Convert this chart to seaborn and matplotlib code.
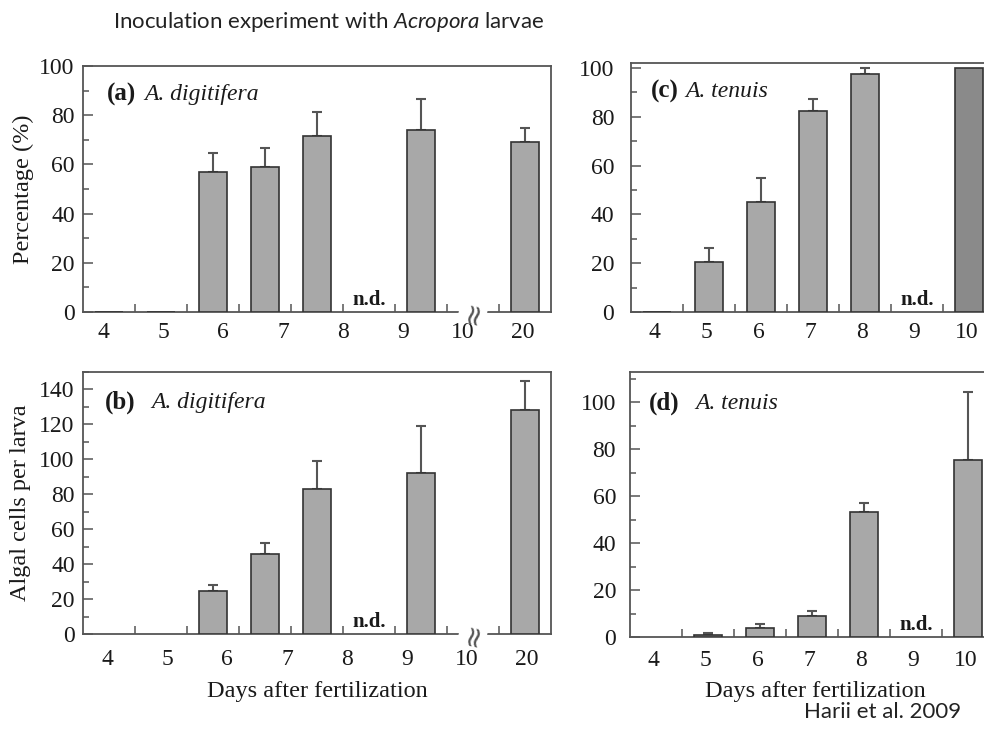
import numpy as np
import pandas as pd
import matplotlib
matplotlib.use("Agg")
import matplotlib.pyplot as plt
import seaborn as sns
from matplotlib.ticker import MultipleLocator

# ---------------- data ----------------
days_ab = ["4", "5", "6", "7", "8", "9", "10", "20"]
pct_a = [0, 0, 57, 59, 71.5, np.nan, 74, np.nan, 69]
pct_a_err = [0, 0, 7.5, 7.7, 10, 0, 12.5, 0, 5.7]
cells_b = [np.nan, np.nan, 24.4, 45.7, 83.2, np.nan, 92.4, np.nan, 128.4]
cells_b_err = [0, 0, 3.8, 6.3, 15.7, 0, 26.8, 0, 16.3]

days_cd = ["4", "5", "6", "7", "8", "9", "10"]
pct_c = [0, 20.3, 45.1, 82.5, 97.5, np.nan, 100]
pct_c_err = [0, 5.8, 9.8, 4.8, 2.5, 0, 0]
cells_d = [np.nan, 0.7, 4.0, 9.0, 53.1, np.nan, 75.4]
cells_d_err = [0, 1.0, 1.7, 2.0, 3.9, 0, 29.1]

nd_slot_ab = 5
break_slot_ab = 7
nd_slot_cd = 5
dark_slot_c = 6

LIGHT = "#a8a8a8"
DARK = "#8a8a8a"
EDGE = "#333333"
AXC = "#555555"
TXT = "#1a1a1a"

sns.set_theme(style="white")
plt.rcParams["font.family"] = ["Liberation Serif", "DejaVu Serif"]
plt.rcParams["mathtext.fontset"] = "custom"
plt.rcParams["mathtext.rm"] = "Lato"
plt.rcParams["mathtext.it"] = "Lato:italic"

fig = plt.figure(figsize=(9.84, 7.30), dpi=100)
W, H = 984.0, 730.0


def make_ax(left, top, right, bottom):
    return fig.add_axes([left / W, (H - bottom) / H, (right - left) / W, (bottom - top) / H])


def panel(ax, vals, errs, ylim, ylabels_pad, xlabels, label_pos, xlim_right,
          xpad=7, dark_slot=None, nd_slot=None, break_slot=None):
    n = len(vals)
    names = [f"s{i}" for i in range(n)]
    pal = {nm: (DARK if i == dark_slot else LIGHT) for i, nm in enumerate(names)}
    df = pd.DataFrame({"slot": names, "value": vals}).dropna()
    sns.barplot(data=df, x="slot", y="value", hue="slot", order=names,
                hue_order=names, palette=pal, width=0.55, saturation=1,
                edgecolor=EDGE, linewidth=1.2, legend=False, ax=ax, zorder=3)
    e = np.array(errs, dtype=float)
    v = np.array(vals, dtype=float)
    idx = np.where(e > 0)[0]
    ax.errorbar(idx, v[idx], yerr=[np.zeros(len(idx)), e[idx]], fmt="none",
                ecolor=AXC, elinewidth=1.5, capsize=3.3, capthick=1.5, zorder=2)
    ax.set_xlim(-0.5, xlim_right)
    ax.set_ylim(*ylim)
    ax.set_xticks(label_pos)
    ax.set_xticklabels(xlabels, fontsize=17, color=TXT)
    ax.set_xticks(np.arange(0.5, n - 0.5, 1.0), minor=True)
    ax.tick_params(axis="x", which="major", length=0, pad=xpad)
    ax.tick_params(axis="x", which="minor", direction="in", length=6,
                   width=1.1, color=AXC, bottom=True)
    ax.yaxis.set_major_locator(MultipleLocator(20))
    ax.yaxis.set_minor_locator(MultipleLocator(10))
    ax.tick_params(axis="y", which="major", direction="in", length=7, width=1.1,
                   color=AXC, left=True, labelsize=17, labelcolor=TXT,
                   pad=ylabels_pad)
    ax.tick_params(axis="y", which="minor", direction="in", length=4, width=1.1,
                   color=AXC, left=True)
    for s in ax.spines.values():
        s.set_color(AXC)
        s.set_linewidth(1.3)
    ax.set_xlabel("")
    ax.set_ylabel("")
    if nd_slot is not None:
        ax.text(nd_slot, ylim[1] * 0.008, "n.d.", ha="center", va="bottom",
                fontsize=15, fontweight="bold", color=TXT)
    if break_slot is not None:
        ax.text(break_slot, 0, "\u2248", ha="center", va="center", rotation=78,
                fontsize=21, color=AXC, family="DejaVu Sans",
                bbox=dict(facecolor="white", edgecolor="none", pad=0.1))


slot_px = 52.0

# (a)
ax_a = make_ax(83, 66, 551, 312)
pos_ab = np.arange(len(days_ab)) * (60.0 / slot_px) - 0.115
panel(ax_a, pct_a, pct_a_err, (0, 100), 6, days_ab, pos_ab, 8.5,
      nd_slot=nd_slot_ab, break_slot=break_slot_ab)
ax_a.set_ylabel("Percentage (%)", fontsize=17.5, labelpad=4, color=TXT)
ax_a.text(0.051, 0.885, "(a)", transform=ax_a.transAxes, fontsize=18,
          fontweight="bold", va="center", color=TXT)
ax_a.text(0.130, 0.885, "A. digitifera", transform=ax_a.transAxes, fontsize=17,
          style="italic", va="center", color=TXT)

# (b)
ax_b = make_ax(83, 372, 551, 634)
panel(ax_b, cells_b, cells_b_err, (0, 150), 6, days_ab, pos_ab + 0.08, 8.5,
      xpad=11, nd_slot=nd_slot_ab, break_slot=break_slot_ab)
ax_b.set_ylabel("Algal cells per larva", fontsize=17.5, labelpad=6, color=TXT)
ax_b.set_xlabel("Days after fertilization", fontsize=17.5, labelpad=8, color=TXT)
ax_b.text(0.047, 0.885, "(b)", transform=ax_b.transAxes, fontsize=18,
          fontweight="bold", va="center", color=TXT)
ax_b.text(0.147, 0.885, "A. digitifera", transform=ax_b.transAxes, fontsize=17,
          style="italic", va="center", color=TXT)

# (c)
ax_c = make_ax(631, 63, 631 + 8 * slot_px, 312)
pos_cd = np.arange(len(days_cd)) - 0.05
panel(ax_c, pct_c, pct_c_err, (0, 102), 12, days_cd, pos_cd, 7.5,
      dark_slot=dark_slot_c, nd_slot=nd_slot_cd)
ax_c.text(0.048, 0.884, "(c)", transform=ax_c.transAxes, fontsize=18,
          fontweight="bold", va="center", color=TXT)
ax_c.text(0.130, 0.884, "A. tenuis", transform=ax_c.transAxes, fontsize=17,
          style="italic", va="center", color=TXT)

# (d)
ax_d = make_ax(630, 372, 630 + 8 * slot_px, 637)
panel(ax_d, cells_d, cells_d_err, (0, 113), 10, days_cd, pos_cd, 7.5,
      xpad=9, nd_slot=nd_slot_cd)
ax_d.set_xlabel("Days after fertilization", fontsize=17.5, color=TXT)
ax_d.xaxis.set_label_coords((815 - 630) / (8 * slot_px), -0.165)
ax_d.text(0.046, 0.883, "(d)", transform=ax_d.transAxes, fontsize=18,
          fontweight="bold", va="center", color=TXT)
ax_d.text(0.156, 0.883, "A. tenuis", transform=ax_d.transAxes, fontsize=17,
          style="italic", va="center", color=TXT)

fig.text(113 / W, 1 - 22 / H, r"Inoculation experiment with $\mathit{Acropora}$ larvae",
         fontsize=16, family="Lato", ha="left", va="center", color="#222222")
fig.text(883 / W, 1 - 712 / H, "Harii et al. 2009", fontsize=16, family="Lato",
         ha="center", va="center", color="#222222")

fig.savefig("out.png", dpi=100)
